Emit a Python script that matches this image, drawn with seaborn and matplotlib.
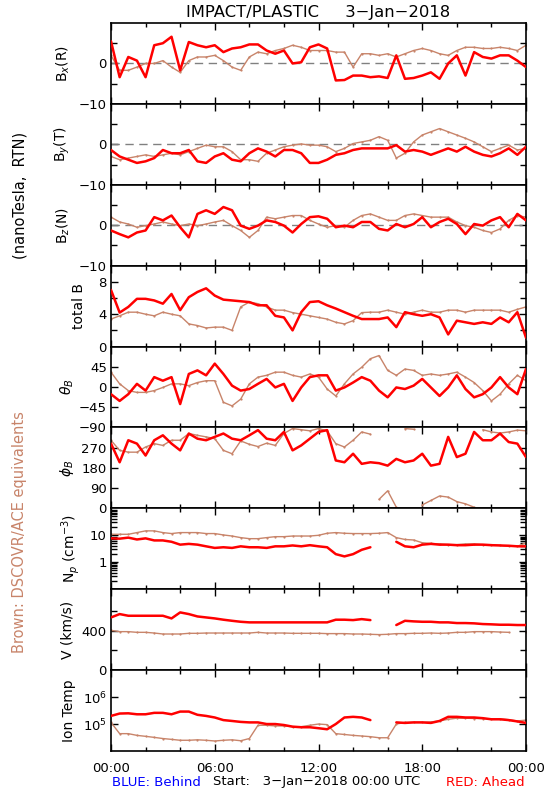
import numpy as np
import pandas as pd
import matplotlib
matplotlib.use("Agg")
import matplotlib.pyplot as plt
import seaborn as sns
from matplotlib.ticker import FixedLocator, NullLocator, LogLocator, NullFormatter

sns.set_style("ticks")
plt.rcParams['font.family'] = ['DejaVu Sans']
plt.rcParams['axes.unicode_minus'] = True
plt.rcParams['text.color'] = 'black'
plt.rcParams['axes.labelcolor'] = 'black'

RED = '#ff0000'
BROWN = '#c8846a'
nan = np.nan

# half-hour samples, 3-Jan-2018 00:00 .. 4-Jan 00:00
hours = np.arange(0, 24.01, 0.5)

bx_red = [5.5, -3.4, 1.6, 0.7, -3.4, 4.5, 5.0, 6.6, -1.7, 5.3, 4.5, 4.0, 4.5, 2.8, 3.7, 4.0, 4.7,
          4.7, 3.2, 2.4, 3.2, 0.0, 0.3, 4.0, 4.7, 3.7, -4.2, -4.1, -3.0, -3.0, -3.4, -3.2, -3.6,
          2.0, -3.8, -3.6, -3.0, -2.2, -3.8, 0.0, 2.0, -3.0, 2.8, 1.6, 1.2, 2.0, 2.0, 0.7, -0.9]
bx_brown = [2.0, -1.7, -1.7, -0.9, 0.0, 0.0, 0.7, -0.9, -2.2, 0.7, 1.6, 1.6, 2.0, 0.7, -0.9, -1.7,
            1.6, 2.8, 2.4, 3.2, 3.7, 4.5, 4.0, 3.2, 3.2, 3.2, 2.8, 2.8, -0.9, 2.4, 2.4, 2.0, 2.4,
            1.6, 2.4, 3.2, 3.7, 3.2, 2.4, 2.0, 3.2, 4.0, 4.0, 3.7, 3.7, 4.0, 3.7, 3.2, 4.5]

by_red = [-1.4, -3.0, -3.8, -4.6, -4.2, -3.4, -1.4, -2.2, -2.2, -1.4, -4.2, -4.6, -3.0, -2.2, -3.8,
          -4.2, -2.2, -1.0, -1.8, -3.0, -1.4, -1.4, -2.2, -4.6, -4.6, -3.8, -2.6, -2.2, -1.4, -1.0,
          -1.0, -1.0, -1.0, -0.2, -1.8, -1.4, -1.8, -2.6, -1.8, -1.0, -1.8, -0.6, -1.8, -2.6, -3.0,
          -2.2, -1.0, -2.6, -0.6]
by_brown = [-3.0, -3.8, -3.4, -3.0, -2.6, -3.0, -2.6, -2.2, -2.6, -1.8, -1.0, -0.2, -0.6, -0.6, -1.8,
            -3.8, -3.8, -4.2, -2.2, -1.4, -0.6, -0.2, 0.1, -0.2, -0.2, -0.6, -1.8, -1.0, 0.2, 0.6,
            1.0, 1.9, 1.0, -3.4, -2.2, 0.6, 2.3, 3.1, 3.9, 3.1, 2.3, 1.5, 0.6, -0.6, -1.8, -1.0,
            -0.2, -1.4, -1.0]

bz_red = [-1.3, -2.2, -3.0, -1.8, -1.3, 2.0, 1.2, 2.4, -0.5, -3.0, 2.8, 3.7, 2.8, 4.5, 3.7, -0.1,
          -0.9, -0.1, 1.2, 0.8, -0.1, -1.8, 0.3, 2.0, 2.2, 1.6, -0.5, -0.1, -0.5, 0.8, 0.8, -0.9,
          -1.3, 0.3, -0.5, 0.3, 2.0, -0.5, 0.8, 1.6, 0.3, -2.2, 0.3, -0.1, 1.2, 2.0, -0.5, 2.8, 1.2]
bz_brown = [2.0, 0.8, 0.3, -0.5, -0.1, 0.3, 0.8, 0.3, -0.1, 0.3, -0.1, 0.3, 0.8, 1.2, -0.1, -1.3,
            -3.0, -1.3, 2.0, 1.6, 2.0, 2.4, 2.4, 1.2, 0.3, -0.5, -0.1, -0.5, 1.2, 2.4, 2.8, 2.0,
            1.2, 1.2, 2.4, 2.8, 2.4, 2.0, 2.0, 2.0, 0.8, -0.1, -0.5, -1.3, -1.8, -0.9, 1.2, 2.4, 2.0]

btot_red = [7.0, 4.2, 4.9, 5.9, 5.9, 5.7, 5.3, 6.5, 4.5, 6.1, 6.75, 7.2, 6.3, 5.8, 5.7, 5.6, 5.5,
            5.1, 5.1, 3.8, 3.6, 2.0, 4.25, 5.5, 5.6, 5.1, 4.7, 4.25, 3.8, 3.4, 3.4, 3.4, 3.6, 2.4,
            4.25, 4.0, 3.8, 4.0, 3.6, 1.5, 3.2, 3.0, 2.8, 3.0, 2.8, 3.6, 3.0, 4.25, 1.1]
btot_brown = [3.4, 3.8, 4.25, 4.25, 4.0, 3.8, 4.25, 4.0, 3.8, 2.8, 2.6, 2.3, 2.4, 2.4, 2.0, 4.9,
              5.5, 5.3, 4.9, 4.5, 4.5, 4.2, 4.0, 3.8, 3.6, 3.4, 3.0, 2.8, 3.2, 4.2, 4.25, 4.25,
              4.5, 4.25, 4.0, 4.25, 4.5, 4.25, 4.25, 4.5, 4.5, 4.25, 4.5, 4.5, 4.5, 4.5, 4.25,
              4.6, 4.9]

theta_red = [-16, -31, -16, 7, -8, 22, 14, 22, -38, 29, 37, 26, 52, 29, 3, -8, -4.5, 7, 18, -1, 7,
             -31, -1, 22, 26, 26, -8, -1, 10, 22, 14, -8, -23, -1, -4.5, 3, 18, -1, -20, -1, 26,
             -4.5, -23, -16, -1, 22, -1, -16, 40]
theta_brown = [33, 7, -8, -12, -12, -8, -1, 7, 7, 3, 10, 14, 14, -34, -42, -27, 7, 22, 26, 33, 33,
               26, 22, 29, 22, -4.5, -20, 7, 29, 44, 63, 70, 37, 26, 40, 37, 26, 29, 26, 29, 33,
               22, 10, -8, -31, -16, 7, 26, 14]

phi_red = [288, 205, 303, 288, 235, 303, 325, 288, 258, 333, 310, 303, 318, 333, 310, 303, 325,
           348, 310, 303, 340, 258, 280, 310, 340, 348, 213, 205, 243, 198, 205, 201, 190, 220,
           205, 213, 243, 190, 198, 318, 228, 243, 340, 303, 303, 333, 295, 288, 228]
phi_brown = [303, 258, 250, 250, 273, 288, 280, 303, 303, 333, 325, 318, 310, 258, 243, 300, 285,
             275, 290, 280, 333, 355, 350, 345, 355, 345, 288, 273, 303, 340, 330, 40, 78, 5, 355,
             352, 15, 35, 55, 50, 30, 20, 5, 350, 340, 335, 340, 348, 345]

np_red = [7.7, 7.5, 8.2, 7.0, 7.7, 6.45, 6.45, 5.75, 4.5, 4.8, 4.5, 3.9, 3.4, 3.6, 3.4, 3.9, 3.6,
          3.6, 3.4, 3.9, 3.9, 4.2, 3.9, 4.3, 3.9, 3.6, 2.0, 1.65, 2.0, 2.9, 3.6, nan, nan, 5.75,
          3.9, 3.6, 4.5, 4.8, 4.5, 4.5, 4.3, 4.3, 4.5, 4.5, 4.3, 4.2, 4.1, 3.9, 3.9]
np_brown = [10.9, 10.9, 10.9, 12.6, 14.6, 14.6, 12.6, 11.6, 12.6, 12.6, 12.6, 11.6, 11.6, 10.3,
            9.4, 8.2, 7.5, 7.5, 8.2, 8.9, 8.9, 9.4, 9.4, 9.4, 10.0, 11.9, 12.6, 11.9, 11.6, 11.6,
            11.6, 11.9, 12.6, 8.2, 7.0, 6.7, 5.3, 5.0, 4.8, 4.5, 4.5, 4.8, 4.8, 4.5, 4.5, 4.2,
            3.9, 3.9, 5.3]

v_red = [534, 568, 551, 551, 551, 551, 551, 524, 585, 568, 544, 534, 524, 511, 500, 490, 484, 484,
         484, 484, 484, 484, 484, 484, 484, 484, 511, 511, 507, 517, 507, nan, nan, 457, 500, 494,
         490, 490, 484, 484, 477, 477, 474, 467, 464, 460, 460, 457, 457]
v_brown = [403, 390, 390, 383, 383, 376, 366, 366, 366, 373, 373, 376, 376, 376, 376, 376, 376,
           383, 376, 376, 376, 373, 373, 373, 373, 370, 370, 370, 366, 366, 363, 360, 363, 370,
           370, 373, 373, 376, 373, 376, 383, 383, 390, 390, 390, 386, 383, nan, 383]

t_red = [2.0e5, 2.45e5, 2.5e5, 2.3e5, 2.3e5, 2.6e5, 2.6e5, 2.3e5, 2.9e5, 2.9e5, 2.2e5, 2.0e5,
         1.75e5, 1.4e5, 1.3e5, 1.2e5, 1.15e5, 1.15e5, 1.0e5, 1.0e5, 9.2e4, 8.0e4, 7.6e4, 7.6e4,
         7.0e4, 6.4e4, 1.0e5, 1.75e5, 1.85e5, 1.75e5, 1.4e5, nan, nan, 1.15e5, 1.1e5, 1.15e5,
         1.15e5, 1.1e5, 1.3e5, 1.85e5, 1.85e5, 1.75e5, 1.75e5, 1.65e5, 1.5e5, 1.5e5, 1.4e5,
         1.25e5, 1.1e5]
t_brown = [1.15e5, 4.4e4, 4.4e4, 3.8e4, 3.5e4, 3.2e4, 2.9e4, 2.7e4, 2.5e4, 2.5e4, 2.6e4, 2.5e4,
           2.35e4, 2.5e4, 2.6e4, 2.4e4, 2.9e4, 9.0e4, 9.0e4, 8.5e4, 8.5e4, 8.0e4, 8.0e4, 9.0e4,
           1.0e5, 9.5e4, 4.4e4, 4.1e4, 3.8e4, 3.6e4, 3.4e4, 3.1e4, 3.1e4, 1.0e5, 1.15e5, 1.15e5,
           1.15e5, 1.2e5, 1.3e5, 1.5e5, 1.65e5, 1.65e5, 1.6e5, 1.6e5, 1.55e5, 1.55e5, 1.45e5,
           1.3e5, 1.4e5]


def frame(vals, wrap=False):
    y = np.asarray(vals, float)
    seg = np.zeros(len(y), int)
    s = 0
    for i in range(1, len(y)):
        if np.isnan(y[i]) or np.isnan(y[i - 1]) or (wrap and abs(y[i] - y[i - 1]) > 180):
            s += 1
        seg[i] = s
    return pd.DataFrame({'hour': hours, 'val': y, 'seg': seg}).dropna()


# (red, brown, label, label x, scale, ylim, major ticks, tick labels, minor ticks, zero line)
panels = [
    (bx_red, bx_brown, 'B$_x$(R)', -0.095, 'linear', (-10, 10), [-10, 0], ['\u221210', '0'], [-5, 5], True),
    (by_red, by_brown, 'B$_y$(T)', -0.095, 'linear', (-10, 10), [-10, 0], ['\u221210', '0'], [-5, 5], True),
    (bz_red, bz_brown, 'B$_z$(N)', -0.095, 'linear', (-10, 10), [-10, 0], ['\u221210', '0'], [-5, 5], True),
    (btot_red, btot_brown, 'total B', -0.06, 'linear', (0, 10), [0, 4, 8], ['0', '4', '8'], [2, 6], False),
    (theta_red, theta_brown, r'$\theta_B$', -0.085, 'linear', (-90, 90), [-90, -45, 0, 45],
     ['\u221290', '\u221245', '0', '45'], [], False),
    (phi_red, phi_brown, r'$\phi_B$', -0.085, 'linear', (0, 360), [0, 90, 180, 270],
     ['0', '90', '180', '270'], [], False),
    (np_red, np_brown, 'N$_p$ (cm$^{-3}$)', -0.07, 'log', (0.1, 100), [1, 10], ['1', '10'], None, False),
    (v_red, v_brown, 'V (km/s)', -0.088, 'linear', (0, 820), [0, 400], ['0', '400'], [200, 600], False),
    (t_red, t_brown, 'Ion Temp', -0.085, 'log', (1e4, 1e7), [1e5, 1e6], ['$10^5$', '$10^6$'], [], False),
]

W, H = 550, 800
fig = plt.figure(figsize=(W / 100, H / 100), dpi=100)
fig.patch.set_facecolor('white')

left, right, top, bottom = 111, 526, 23, 751
ph = (bottom - top) / len(panels)

for i, (red, brown, label, lx, scale, ylim, major, mlabels, minor, zero) in enumerate(panels):
    ax = fig.add_axes([left / W, 1 - (top + (i + 1) * ph) / H, (right - left) / W, ph / H])
    wrap = scale == 'linear' and ylim == (0, 360)
    if scale == 'log':
        ax.set_yscale('log')
    if zero:
        ax.axhline(0, color='#808080', lw=1.0, dashes=(6, 4), zorder=1)
    sns.lineplot(data=frame(brown, wrap), x='hour', y='val', units='seg', estimator=None,
                 color=BROWN, lw=1.0, marker='o', markersize=1.6, markeredgewidth=0,
                 ax=ax, legend=False, zorder=2)
    sns.lineplot(data=frame(red, wrap), x='hour', y='val', units='seg', estimator=None,
                 color=RED, lw=1.8, ax=ax, legend=False, zorder=3)
    ax.set_xlim(0, 24)
    ax.set_ylim(*ylim)
    ax.xaxis.set_major_locator(FixedLocator([0, 6, 12, 18, 24]))
    ax.xaxis.set_minor_locator(FixedLocator([2, 4, 8, 10, 14, 16, 20, 22]))
    ax.yaxis.set_major_locator(FixedLocator(major))
    ax.set_yticklabels(mlabels)
    if minor is None:
        ax.yaxis.set_minor_locator(LogLocator(base=10, subs=np.arange(2, 10)))
        ax.yaxis.set_minor_formatter(NullFormatter())
    elif minor:
        ax.yaxis.set_minor_locator(FixedLocator(minor))
    else:
        ax.yaxis.set_minor_locator(NullLocator())
    ax.tick_params(which='both', direction='in', top=True, right=True, width=1.0,
                   labelsize=9.5, colors='black', pad=3)
    ax.tick_params(axis='y', which='major', length=5)
    ax.tick_params(axis='y', which='minor', length=4)
    ax.tick_params(axis='x', which='major', length=5)
    ax.tick_params(axis='x', which='minor', length=3)
    ax.set_ylabel(label, fontsize=10, color='black')
    ax.yaxis.set_label_coords(lx, 0.5)
    ax.set_xlabel('')
    if i == len(panels) - 1:
        ax.set_xticklabels(['00:00', '06:00', '12:00', '18:00', '00:00'])
        ax.tick_params(axis='x', labelsize=9.5, pad=8)
    else:
        ax.set_xticklabels([])
    for sp in ax.spines.values():
        sp.set_linewidth(1.2)
        sp.set_color('black')

fig.text(318 / W, 1 - 12 / H, 'IMPACT/PLASTIC     3\u2212Jan\u22122018', ha='center', va='center',
         fontsize=11.8, color='black')
fig.text(20 / W, 1 - 195 / H, '(nanoTesla,  RTN)', rotation=90, ha='center', va='center',
         fontsize=10.5, color='black')
fig.text(20 / W, 1 - 532 / H, 'Brown: DSCOVR/ACE equivalents', rotation=90, ha='center',
         va='center', fontsize=10.5, color=BROWN)
fig.text(112 / W, 1 - 782 / H, 'BLUE: Behind', ha='left', va='center', fontsize=9.5,
         color='#0000ff')
fig.text(213 / W, 1 - 782 / H, 'Start:   3\u2212Jan\u22122018 00:00 UTC', ha='left', va='center',
         fontsize=9.5, color='black')
fig.text(525 / W, 1 - 782 / H, 'RED: Ahead', ha='right', va='center', fontsize=9.5, color=RED)

fig.savefig('out.png', dpi=100, facecolor='white')
